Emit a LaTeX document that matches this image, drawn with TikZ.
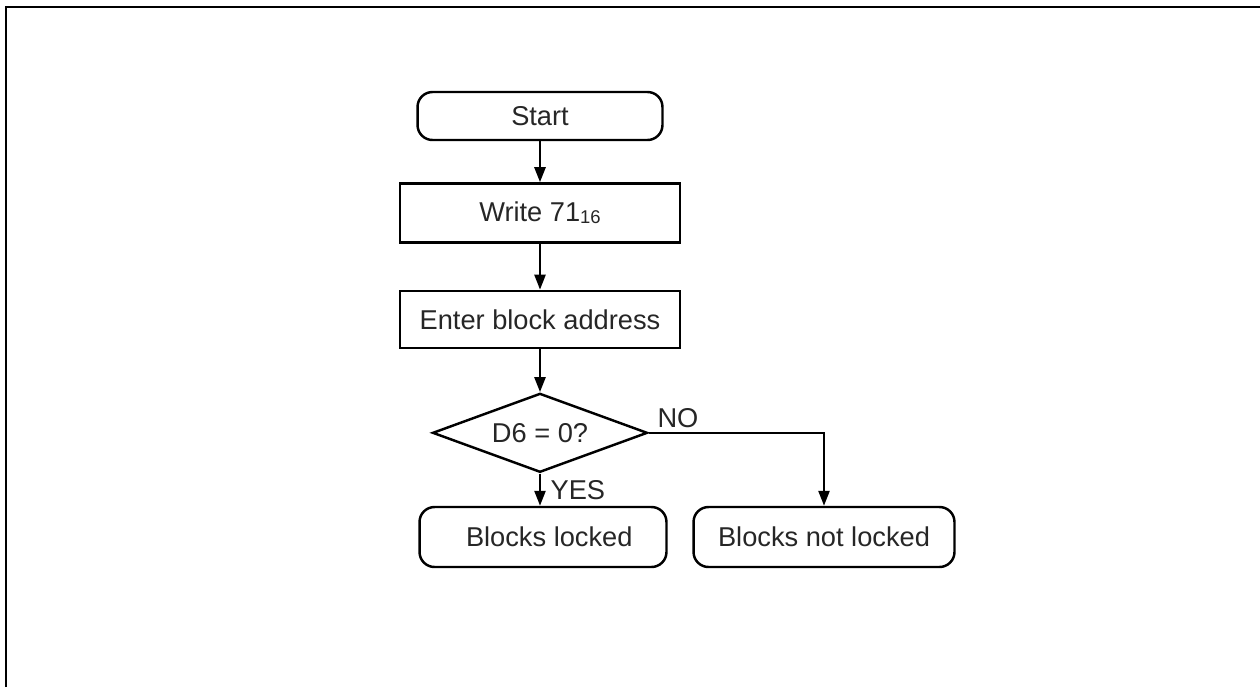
\documentclass[tikz,border=0pt]{standalone}
\usepackage{fontspec}
\setmainfont{Liberation Sans}
\usetikzlibrary{arrows.meta, shapes.geometric, positioning}

\begin{document}
\begin{tikzpicture}[
	x=0.02cm, y=-0.02cm,
	endbox/.style={rectangle, draw, line width=1.4pt, rounded corners=0.3cm, minimum height=0.96cm, align=center},
	stepbox/.style={rectangle, draw, line width=1.4pt, minimum width=5.6cm, minimum height=1.18cm, align=center},
	testbox/.style={diamond, draw, line width=1.4pt, aspect=2.7, inner sep=0pt, minimum width=4.3cm, minimum height=1.58cm, align=center},
	arrow/.style={-{Triangle[length=0.3cm, width=0.22cm]}, line width=1.4pt},
	every node/.style={font=\fontsize{15.5}{18}\selectfont, text=black!85}
	]
	
	% frame and size
	\useasboundingbox (0,0) rectangle (1260,687);
	\draw[line width=1.7pt] (6,687) -- (6,7) -- (1260,7);
	
	\node[endbox, minimum width=4.9cm] (start) at (540,116) {Start};
	\node[stepbox, below=0.82cm of start] (write) {Write 71\raisebox{-1pt}{\fontsize{10.5}{12}\selectfont 16}};
	\node[stepbox, minimum height=1.14cm, below=0.92cm of write] (addr) {Enter block address};
	\node[testbox, below=0.86cm of addr] (test) {D6 = 0?};
	\node[endbox, minimum width=4.94cm, minimum height=1.2cm] (locked) at (543,537) {\hspace{0.25cm}Blocks locked};
	\node[endbox, minimum width=5.22cm, minimum height=1.2cm] (unlocked) at (824,537) {Blocks not locked};
	
	\draw[arrow] (start) -- (write);
	\draw[arrow] (write) -- (addr);
	\draw[arrow] (addr) -- (test);
	\draw[arrow] (test.south) -- (test.south |- locked.north) node[midway, right=2pt] {YES};
	\draw[arrow] (test.east) -| (unlocked.north) node[pos=0, anchor=south west, xshift=1pt, yshift=-1pt] {NO};
\end{tikzpicture}
\end{document}
